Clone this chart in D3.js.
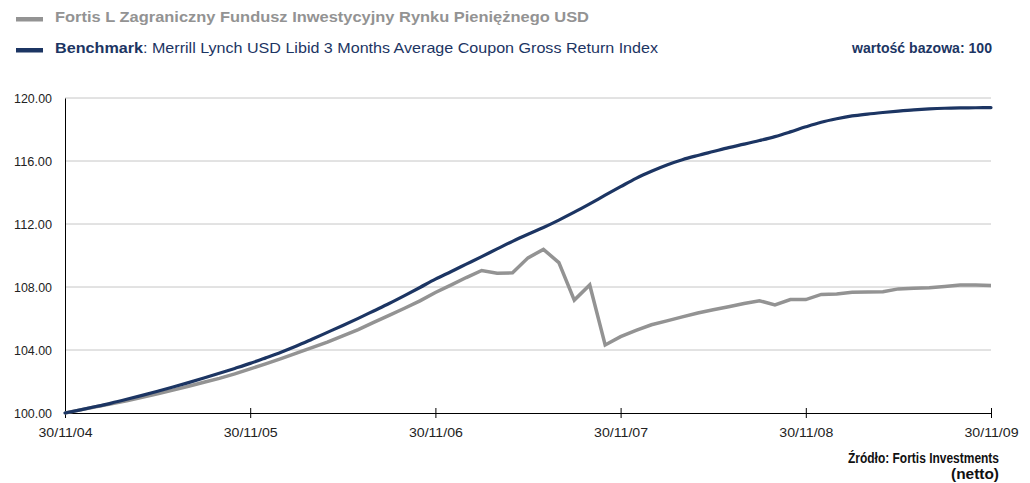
<!DOCTYPE html>
<html>
<head>
<meta charset="utf-8">
<script src="https://cdn.jsdelivr.net/npm/d3@7"></script>
<style>
  body { margin: 0; background: #fff; }
  svg { display: block; font-family: "Liberation Sans", Arial, sans-serif; }
</style>
</head>
<body>
<svg id="chart" width="1030" height="483"></svg>
<script>
// month index 0 = 30/11/04 ... 60 = 30/11/09
const tickLabels = ['30/11/04', '30/11/05', '30/11/06', '30/11/07', '30/11/08', '30/11/09'];
const tickMonths = [0, 12, 24, 36, 48, 60];
const yTicks = [100, 104, 108, 112, 116, 120];

const fund = [
  100.00, 100.20, 100.40, 100.58, 100.78, 101.00, 101.22, 101.45, 101.70, 101.95,
  102.20, 102.48, 102.80, 103.12, 103.45, 103.80, 104.15, 104.50, 104.90, 105.30,
  105.75, 106.20, 106.65, 107.12, 107.65, 108.12, 108.60, 109.05, 108.88, 108.90,
  109.85, 110.39, 109.55, 107.17, 108.13, 104.32, 104.85, 105.25, 105.60, 105.85,
  106.10, 106.35, 106.55, 106.75, 106.95, 107.13, 106.86, 107.20, 107.20, 107.53,
  107.56, 107.66, 107.68, 107.70, 107.88, 107.92, 107.96, 108.03, 108.12, 108.12,
  108.10
];

const benchmark = [
  100.00, 100.20, 100.41, 100.63, 100.87, 101.12, 101.38, 101.65, 101.93, 102.22,
  102.52, 102.83, 103.15, 103.50, 103.86, 104.25, 104.68, 105.12, 105.56, 106.01,
  106.48, 106.95, 107.45, 107.97, 108.50, 108.97, 109.45, 109.93, 110.42, 110.90,
  111.35, 111.78, 112.25, 112.75, 113.28, 113.83, 114.37, 114.90, 115.35, 115.75,
  116.08, 116.35, 116.60, 116.85, 117.07, 117.30, 117.55, 117.85, 118.17, 118.46,
  118.68, 118.86, 118.98, 119.08, 119.17, 119.25, 119.31, 119.35, 119.37, 119.38,
  119.39
];

const grayColor = '#939393';
const navyColor = '#1c3563';
const font = '"Liberation Sans", Arial, sans-serif';

const svg = d3.select('#chart');

const x = d3.scaleLinear().domain([0, 60]).range([65, 991]);
const y = d3.scaleLinear().domain([100, 120]).range([413, 98]);

// Grid
svg.append('g')
    .selectAll('line')
    .data(yTicks.slice(1))
    .join('line')
    .attr('x1', 65)
    .attr('x2', 991)
    .attr('y1', d => y(d))
    .attr('y2', d => y(d))
    .attr('stroke', '#c6c6c6')
    .attr('stroke-width', 1);

// Y axis
const yAxis = svg.append('g')
    .attr('transform', 'translate(65,0)')
    .call(d3.axisLeft(y).tickValues(yTicks).tickSize(0).tickPadding(13).tickFormat(d3.format('.2f')));
yAxis.select('.domain').attr('stroke', '#000');
yAxis.selectAll('text')
    .attr('font-size', 13)
    .attr('fill', '#222')
    .attr('font-family', font)
    .attr('textLength', 38)
    .attr('lengthAdjust', 'spacingAndGlyphs');

// X axis
const xAxis = svg.append('g')
    .attr('transform', 'translate(0,413)')
    .call(d3.axisBottom(x).tickValues(tickMonths).tickSize(5).tickSizeOuter(0)
        .tickFormat((d, i) => tickLabels[i]));
xAxis.select('.domain').attr('stroke', '#000');
xAxis.selectAll('.tick line').attr('y1', -5).attr('stroke', '#000');
xAxis.selectAll('text')
    .attr('dy', '1.2em')
    .attr('font-size', 13)
    .attr('fill', '#222')
    .attr('font-family', font)
    .attr('textLength', 54)
    .attr('lengthAdjust', 'spacingAndGlyphs');

// Lines
const fundLine = d3.line()
    .x((d, i) => x(i))
    .y(d => y(d));

const benchLine = d3.line()
    .x((d, i) => x(i))
    .y(d => y(d))
    .curve(d3.curveMonotoneX);

svg.append('path')
    .datum(fund)
    .attr('d', fundLine)
    .attr('fill', 'none')
    .attr('stroke', grayColor)
    .attr('stroke-width', 3.5)
    .attr('stroke-linejoin', 'miter');

svg.append('path')
    .datum(benchmark)
    .attr('d', benchLine)
    .attr('fill', 'none')
    .attr('stroke', navyColor)
    .attr('stroke-width', 3.2)
    .attr('stroke-linecap', 'round');

// Legend
svg.append('rect').attr('x', 16).attr('y', 17).attr('width', 27).attr('height', 4.5).attr('fill', grayColor);
svg.append('text')
    .attr('x', 55).attr('y', 22)
    .attr('font-size', 15).attr('font-weight', 'bold').attr('fill', grayColor)
    .attr('textLength', 534).attr('lengthAdjust', 'spacingAndGlyphs')
    .text('Fortis L Zagraniczny Fundusz Inwestycyjny Rynku Pieniężnego USD');

svg.append('rect').attr('x', 16).attr('y', 48).attr('width', 27).attr('height', 4.5).attr('fill', navyColor);
const bench = svg.append('text')
    .attr('x', 55).attr('y', 53)
    .attr('font-size', 15).attr('fill', navyColor);
bench.append('tspan').attr('font-weight', 'bold')
    .attr('textLength', 88).attr('lengthAdjust', 'spacingAndGlyphs')
    .text('Benchmark');
bench.append('tspan')
    .attr('textLength', 515).attr('lengthAdjust', 'spacingAndGlyphs')
    .text(': Merrill Lynch USD Libid 3 Months Average Coupon Gross Return Index');

svg.append('text')
    .attr('x', 992).attr('y', 53)
    .attr('text-anchor', 'end')
    .attr('font-size', 14).attr('font-weight', 'bold').attr('fill', navyColor)
    .attr('textLength', 140).attr('lengthAdjust', 'spacingAndGlyphs')
    .text('wartość bazowa: 100');

// Source
svg.append('text')
    .attr('x', 999).attr('y', 463)
    .attr('text-anchor', 'end')
    .attr('font-size', 14).attr('font-weight', 'bold').attr('fill', '#111')
    .attr('textLength', 151).attr('lengthAdjust', 'spacingAndGlyphs')
    .text('Źródło: Fortis Investments');
svg.append('text')
    .attr('x', 999).attr('y', 479)
    .attr('text-anchor', 'end')
    .attr('font-size', 14).attr('font-weight', 'bold').attr('fill', '#111')
    .attr('textLength', 48).attr('lengthAdjust', 'spacingAndGlyphs')
    .text('(netto)');
</script>
</body>
</html>
